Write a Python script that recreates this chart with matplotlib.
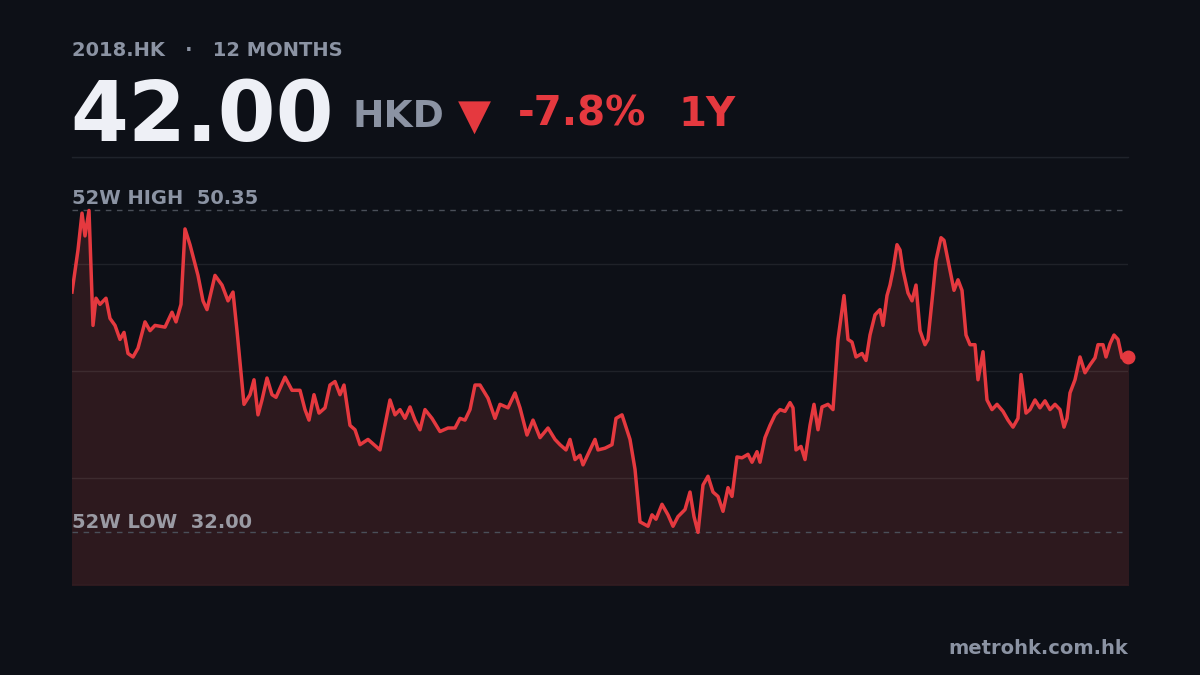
import matplotlib
matplotlib.use("Agg")
import matplotlib.pyplot as plt

# trading-day position (arbitrary units across the year) and close price
days = [0, 6, 10, 13, 17, 21, 24, 28, 34, 38, 43, 48, 52, 56, 61, 66, 73, 78, 83, 93,
        100, 104, 109, 113, 118, 126, 131, 135, 143, 150, 156, 161, 165, 172, 178, 182, 186, 190, 195, 200,
        204, 213, 220, 228, 233, 237, 242, 247, 253, 258, 263, 268, 272, 278, 283, 288, 296, 308, 318, 323,
        328, 333, 338, 343, 348, 353, 360, 368, 376, 383, 388, 393, 398, 403, 408, 416, 423, 428, 436, 443,
        448, 455, 461, 468, 476, 483, 488, 494, 498, 503, 508, 511, 518, 523, 526, 533, 540, 544, 550, 558,
        563, 568, 576, 580, 584, 590, 596, 601, 606, 613, 618, 622, 626, 631, 636, 641, 646, 651, 656, 660,
        665, 670, 676, 680, 685, 688, 693, 698, 703, 708, 713, 718, 721, 724, 729, 733, 738, 742, 746, 750,
        756, 761, 766, 772, 776, 780, 784, 790, 794, 798, 803, 808, 811, 815, 818, 821, 825, 828, 831, 836,
        840, 844, 848, 853, 856, 860, 864, 869, 872, 878, 882, 886, 890, 894, 898, 903, 906, 911, 915, 920,
        925, 931, 936, 941, 946, 949, 954, 958, 963, 968, 973, 978, 983, 988, 992, 995, 998, 1003, 1008, 1013,
        1018, 1023, 1026, 1031, 1034, 1038, 1042, 1046, 1050, 1056]
prices = [45.7, 48.1, 50.2, 48.9, 50.35, 43.8, 45.35, 45.0, 45.35, 44.2, 43.8, 43.0, 43.4, 42.2, 42.0, 42.5, 44.0, 43.5, 43.8, 43.7,
          44.55, 44.0, 45.0, 49.3, 48.4, 46.65, 45.2, 44.7, 46.65, 46.1, 45.2, 45.7, 43.5, 39.3, 39.85, 40.7, 38.7, 39.55, 40.8, 39.85,
          39.7, 40.85, 40.1, 40.1, 39.0, 38.4, 39.85, 38.8, 39.1, 40.4, 40.6, 39.85, 40.4, 38.1, 37.85, 37.0, 37.3, 36.7, 39.55, 38.7,
          39.0, 38.5, 39.15, 38.4, 37.85, 39.0, 38.5, 37.75, 37.95, 37.95, 38.5, 38.4, 39.0, 40.4, 40.4, 39.65, 38.5, 39.3, 39.1, 39.95,
          39.1, 37.55, 38.4, 37.4, 37.95, 37.3, 37.0, 36.7, 37.3, 36.15, 36.4, 35.85, 36.7, 37.3, 36.7, 36.8, 37.0, 38.5, 38.7, 37.3,
          35.6, 32.6, 32.35, 33.0, 32.75, 33.6, 33.0, 32.35, 32.9, 33.3, 34.3, 32.9, 32.0, 34.7, 35.2, 34.3, 34.05, 33.2, 34.55, 34.05,
          36.3, 36.25, 36.45, 36.0, 36.6, 36.0, 37.4, 38.1, 38.7, 39.0, 38.9, 39.4, 39.1, 36.7, 36.9, 36.15, 38.1, 39.3, 37.85, 39.15,
          39.3, 39.0, 43.0, 45.5, 43.0, 42.85, 42.0, 42.2, 41.8, 43.25, 44.4, 44.7, 43.8, 45.5, 46.1, 46.95, 48.4, 48.1, 46.95, 45.65,
          45.2, 46.1, 43.5, 42.7, 43.0, 45.2, 47.5, 48.8, 48.65, 46.95, 45.8, 46.4, 45.8, 43.25, 42.7, 42.7, 40.7, 42.3, 39.55, 39.0,
          39.3, 38.9, 38.4, 38.0, 38.5, 41.0, 38.8, 39.0, 39.55, 39.1, 39.5, 39.0, 39.3, 39.0, 38.0, 38.5, 39.95, 40.7, 42.0, 41.1,
          41.55, 41.95, 42.7, 42.7, 42.0, 42.75, 43.25, 43.0, 41.95, 42.0]
high_52w = 50.35
low_52w = 32.00

BG = "#0d1017"
RED = "#e5393f"
GRAY = "#8b93a3"

fig = plt.figure(figsize=(12, 6.75), dpi=100, facecolor=BG)
ax = fig.add_axes([72 / 1200, 1 - 585 / 675, 1056 / 1200, 428 / 675])
ax.set_facecolor(BG)
ymin, ymax = 29.0, 53.4
ax.set_xlim(0, days[-1])
ax.set_ylim(ymin, ymax)
for s in ax.spines.values():
    s.set_visible(False)
ax.set_xticks([])
ax.set_yticks([])

ax.fill_between(days, prices, ymin, color="#2d191e", zorder=1)
for i in range(1, 5):
    g = ymin + (ymax - ymin) * i / 4
    ax.axhline(g, color="#ffffff", alpha=0.08, lw=1, zorder=2)
ax.axhline(ymin, color="#ffffff", alpha=0.08, lw=1, zorder=2)
ax.axhline(high_52w, color="#4a4f59", lw=1, ls=(0, (4, 4)), zorder=2)
ax.axhline(low_52w, color="#4a4f59", lw=1, ls=(0, (4, 4)), zorder=2)

ax.plot(days, prices, color=RED, lw=2.5, zorder=3, solid_joinstyle="round")
ax.plot(days[-1], prices[-1], "o", color=RED, ms=9, zorder=4, clip_on=False)

def ftext(x, y, s, **kw):
    fig.text(x / 1200, 1 - y / 675, s, **kw)

ftext(72, 51, "2018.HK   ·   12 MONTHS", color=GRAY, fontsize=14, fontweight="bold", va="center")
ftext(70, 117, "42.00", color="#eef0f6", fontsize=60, fontweight="bold", va="center")
ftext(352, 117, "HKD", color=GRAY, fontsize=27, fontweight="bold", va="center")
ftext(458, 117, "▼", color=RED, fontsize=31, va="center")
ftext(518, 115, "-7.8%", color=RED, fontsize=29, fontweight="bold", va="center")
ftext(678, 115, "1Y", color=RED, fontsize=29, fontweight="bold", va="center")
ftext(72, 198, "52W HIGH  50.35", color=GRAY, fontsize=14, fontweight="bold", va="center")
ftext(72, 522, "52W LOW  32.00", color="#9a9aa3", fontsize=14, fontweight="bold", va="center")
ftext(1128, 648, "metrohk.com.hk", color=GRAY, fontsize=14, fontweight="bold", va="center", ha="right")
fig.add_artist(plt.Line2D([72 / 1200, 1128 / 1200], [1 - 157 / 675] * 2, color="#1f232b", lw=1))

fig.savefig("out.png", dpi=100, facecolor=BG)
